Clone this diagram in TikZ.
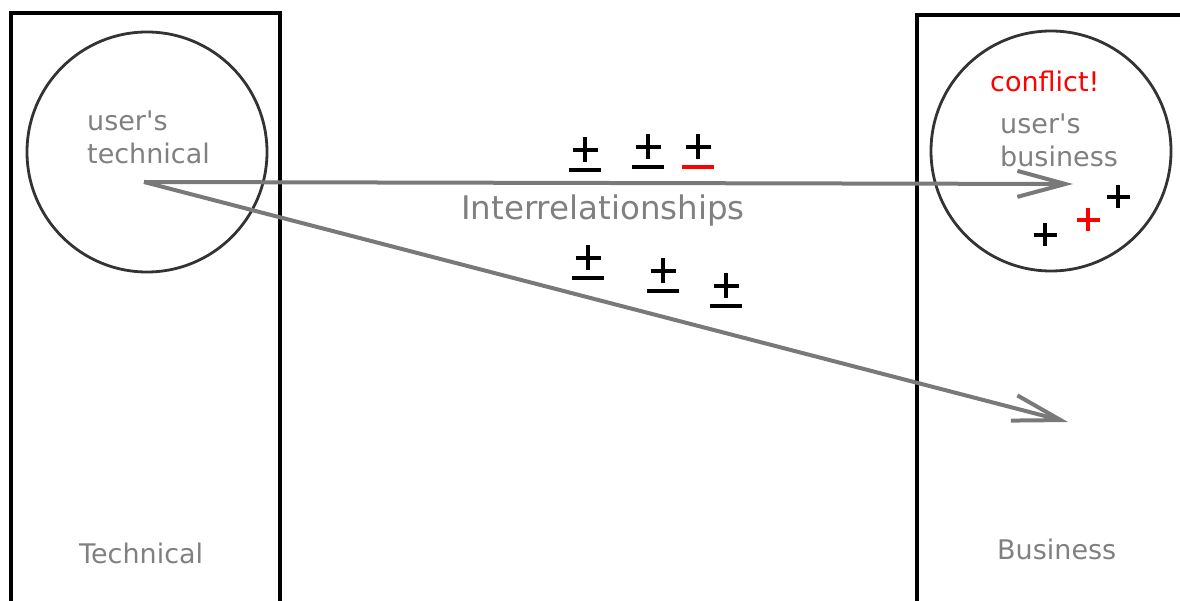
\documentclass[tikz,border=0pt]{standalone}
\usepackage{fontspec}
\setmainfont{DejaVu Sans}
\usetikzlibrary{arrows.meta}

\begin{document}
\begin{tikzpicture}[x=1pt, y=-1pt,
  side/.style={line width=4pt, black},
  ring/.style={circle, draw=black!80, line width=2.8pt, minimum size=240pt, inner sep=0pt},
  lbl/.style={text=gray, inner sep=0pt, anchor=base west, align=left, font=\fontsize{27}{33}\selectfont},
  link/.style={gray!95!black, line width=4pt, -{Straight Barb[length=48pt, width=26pt, line width=4pt]}},
  sign/.style={line width=4.5pt}]
\useasboundingbox (0,0) rectangle (1180,601);
\clip (0,0) rectangle (1180,601);
\draw[side] (11,620) -- (11,13) -- (280,13) -- (280,620);
\draw[side] (917,620) -- (917,15) -- (1200,15);
\node[ring] (tech) at (147,152) {};
\node[ring] (biz) at (1051,151) {};
\node[lbl] (techname) at (87,164) {user\textquotesingle s\\technical};
\node[lbl] (bizname) at (1000,167) {user\textquotesingle s\\business};
\node[lbl, text=red] (conflict) at (990,92) {conflict!};
\node[lbl, font=\fontsize{32.5}{38}\selectfont] (inter) at (461,220) {Interrelationships};
\node[lbl] (techside) at (79,563) {Technical};
\node[lbl] (bizside) at (997,559) {Business};
\coordinate (from) at (144,182);
\coordinate (top) at (1073,184);
\coordinate (low) at (1068,422);
\draw[link] (from) -- (top);
\draw[link] (from) -- (low);
\foreach \px/\py/\uc in {585/150/black, 648/147/black, 698/147/red, 588/258/black, 663/271/black, 726/286/black} {
  \draw[sign] (\px-12.5,\py) -- (\px+12.5,\py) (\px,\py-12.5) -- (\px,\py+12.5);
  \draw[sign, \uc] (\px-16,\py+20) -- (\px+16,\py+20);
}
\foreach \px/\py/\pc in {1118/197/black, 1088/220/red, 1045/235/black}
  \draw[sign, \pc] (\px-11.5,\py) -- (\px+11.5,\py) (\px,\py-11.5) -- (\px,\py+11.5);
\end{tikzpicture}
\end{document}
